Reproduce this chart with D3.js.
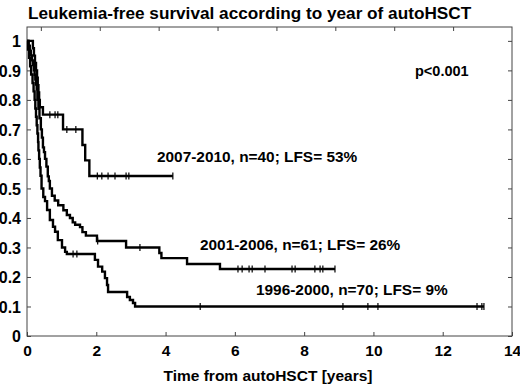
<!DOCTYPE html>
<html>
<head>
<meta charset="utf-8">
<script src="https://cdn.jsdelivr.net/npm/d3@7"></script>
<style>
  body { margin: 0; background: #fff; }
  svg text { font-family: "Liberation Sans", Arial, sans-serif; font-weight: bold; fill: #000; }
</style>
</head>
<body>
<div id="chart"></div>
<script>
// step points [years, survival] after each event
const stepsA = [[0,1],[0.17,0.975],[0.20,0.95],[0.23,0.925],[0.26,0.90],[0.29,0.875],[0.31,0.85],[0.33,0.825],[0.35,0.80],[0.37,0.775],[0.46,0.75],[1.04,0.70],[1.60,0.647],[1.68,0.595],[1.80,0.542]];
const stepsB = [[0,1],[0.05,0.984],[0.08,0.967],[0.11,0.951],[0.14,0.934],[0.17,0.918],[0.20,0.90],[0.22,0.885],[0.24,0.869],[0.26,0.852],[0.28,0.836],[0.30,0.80],[0.33,0.77],[0.36,0.738],[0.40,0.70],[0.43,0.672],[0.46,0.639],[0.49,0.623],[0.52,0.60],[0.56,0.574],[0.60,0.541],[0.63,0.525],[0.66,0.50],[0.72,0.475],[0.80,0.459],[0.90,0.443],[1.05,0.426],[1.15,0.41],[1.24,0.40],[1.32,0.385],[1.39,0.377],[1.53,0.369],[1.60,0.352],[1.70,0.340],[2.02,0.322],[2.86,0.30],[3.82,0.281],[3.88,0.264],[4.62,0.244],[5.57,0.227]];
const stepsC = [[0,1],[0.03,0.971],[0.06,0.943],[0.09,0.914],[0.12,0.886],[0.16,0.857],[0.19,0.829],[0.22,0.80],[0.24,0.771],[0.26,0.743],[0.28,0.714],[0.30,0.686],[0.32,0.657],[0.33,0.629],[0.35,0.60],[0.37,0.571],[0.39,0.543],[0.42,0.50],[0.47,0.471],[0.52,0.457],[0.58,0.427],[0.66,0.393],[0.75,0.37],[0.81,0.353],[0.89,0.325],[1.01,0.30],[1.10,0.285],[1.15,0.278],[1.96,0.258],[2.05,0.235],[2.17,0.218],[2.25,0.196],[2.31,0.173],[2.34,0.149],[2.89,0.132],[2.97,0.122],[3.06,0.112],[3.12,0.10]];

const endA = 4.21, endB = 8.89, endC = 13.19;

// censored times
const censorA = [0.66,0.81,0.89,1.15,1.41,2.03,2.16,2.34,2.54,2.86,2.94,4.21];
const censorB = [2.04,3.26,6.09,6.21,6.41,6.50,6.87,7.65,7.74,8.31,8.46,8.54,8.89];
const censorC = [1.33,1.44,5.00,9.12,9.84,10.13,12.99,13.13,13.19];

const groupLabels = ["2007-2010, n=40; LFS= 53%", "2001-2006, n=61; LFS= 26%", "1996-2000, n=70; LFS= 9%"];

const xTicks = [0,2,4,6,8,10,12,14];
const yTicks = [0,0.1,0.2,0.3,0.4,0.5,0.6,0.7,0.8,0.9,1];
const topTicks = [0.4,2.1,3.8,5.5,7.2,8.9,10.6,12.3];

const width = 520, height = 384;
const x = d3.scaleLinear().domain([0, 14]).range([27, 512]);
const y = d3.scaleLinear().domain([0, 1.047]).range([336, 27]);

const svg = d3.select("#chart").append("svg")
  .attr("width", width).attr("height", height);

// 标题
svg.append("text")
  .attr("x", 28).attr("y", 19)
  .style("font-size", "17.2px")
  .text("Leukemia-free survival according to year of autoHSCT");

// 边框
svg.append("rect")
  .attr("x", x(0)).attr("y", y.range()[1])
  .attr("width", x(14) - x(0)).attr("height", y(0) - y.range()[1])
  .attr("fill", "none").attr("stroke", "#444").attr("stroke-width", 1);

// 坐标轴
const gx = svg.append("g").attr("transform", `translate(0,${y(0)})`)
  .call(d3.axisBottom(x).tickValues(xTicks).tickFormat(d3.format("d")).tickSizeInner(-4).tickSizeOuter(0).tickPadding(9));
const gy = svg.append("g").attr("transform", `translate(${x(0)},0)`)
  .call(d3.axisLeft(y).tickValues(yTicks).tickFormat(d => d === 0 || d === 1 ? d : d3.format(".1f")(d)).tickSizeInner(-4).tickSizeOuter(0).tickPadding(6));
const gt = svg.append("g").attr("transform", `translate(0,${y.range()[1]})`)
  .call(d3.axisTop(x).tickValues(topTicks).tickFormat("").tickSizeInner(-4).tickSizeOuter(0));
const gr = svg.append("g").attr("transform", `translate(${x(14)},0)`)
  .call(d3.axisRight(y).tickValues(yTicks).tickFormat("").tickSizeInner(-4).tickSizeOuter(0));

[gx, gy, gt, gr].forEach(g => {
  g.select(".domain").remove();
  g.selectAll(".tick line").attr("stroke", "#444");
});
gx.selectAll("text").style("font-size", "15.5px");
gy.selectAll("text").style("font-size", "16px").attr("dy", "0.36em");

svg.append("text")
  .attr("x", 268).attr("y", 381)
  .attr("text-anchor", "middle")
  .style("font-size", "15.5px")
  .text("Time from autoHSCT [years]");

// 曲线
const line = d3.line().x(d => x(d[0])).y(d => y(d[1])).curve(d3.curveStepAfter);
const series = [
  { steps: stepsA, end: endA, censor: censorA },
  { steps: stepsB, end: endB, censor: censorB },
  { steps: stepsC, end: endC, censor: censorC }
];

const bis = d3.bisector(d => d[0]).right;
series.forEach(s => {
  const pts = s.steps.concat([[s.end, s.steps[s.steps.length - 1][1]]]);
  svg.append("path")
    .attr("d", line(pts))
    .attr("fill", "none").attr("stroke", "#000").attr("stroke-width", 2.4);
  svg.append("g").selectAll("line").data(s.censor).join("line")
    .attr("x1", d => x(d)).attr("x2", d => x(d))
    .attr("y1", d => y(s.steps[bis(s.steps, d) - 1][1]) - 3.5)
    .attr("y2", d => y(s.steps[bis(s.steps, d) - 1][1]) + 3.5)
    .attr("stroke", "#000").attr("stroke-width", 1.2);
});

// 标注
const labelPos = [[157, 162], [200, 250], [256, 295]];
svg.append("g").selectAll("text").data(groupLabels).join("text")
  .attr("x", (d, i) => labelPos[i][0]).attr("y", (d, i) => labelPos[i][1])
  .style("font-size", "15.4px")
  .text(d => d);

svg.append("text")
  .attr("x", 415).attr("y", 76)
  .style("font-size", "14.5px")
  .text("p<0.001");
</script>
</body>
</html>
